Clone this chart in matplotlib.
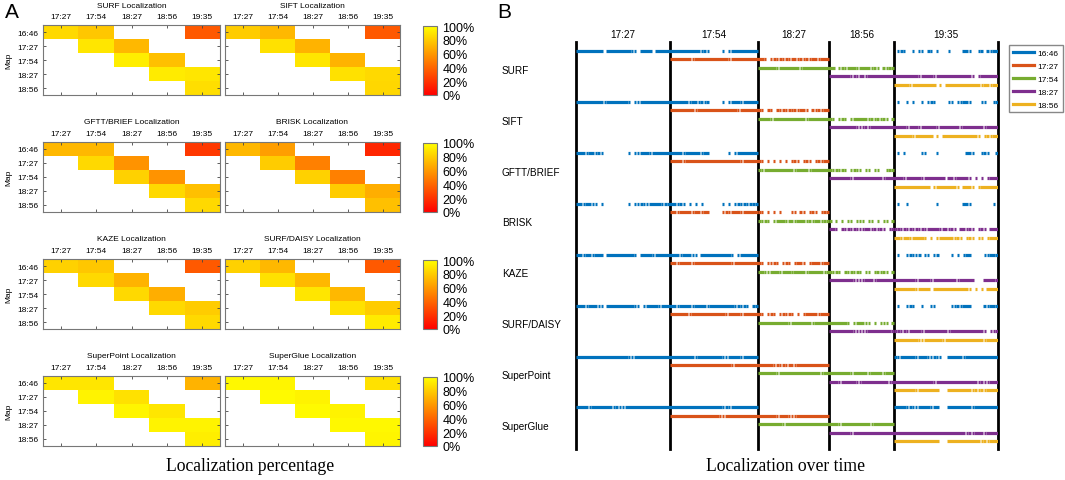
import numpy as np
import matplotlib
matplotlib.use('Agg')
import matplotlib.pyplot as plt
from matplotlib.lines import Line2D
from matplotlib.transforms import blended_transform_factory

plt.rcParams['font.family'] = ['Liberation Sans', 'DejaVu Sans']

# Traversals (query runs) and the maps they are localized against
TRAVERSALS = ['17:27', '17:54', '18:27', '18:56', '19:35']
MAPS = ['16:46', '17:27', '17:54', '18:27', '18:56']
DURATIONS = [94, 88, 71, 65, 104]
METHODS = ['SURF', 'SIFT', 'GFTT/BRIEF', 'BRISK', 'KAZE', 'SURF/DAISY', 'SuperPoint', 'SuperGlue']
MAP_COLORS = ['#0072BD', '#D95319', '#77AC30', '#7E2F8E', '#EDB120']

N = None
# Localization percentage, rows = map, columns = traversal
SURF_PCT = [[85, 78, N, N, 35], [N, 90, 72, N, N], [N, N, 93, 75, N], [N, N, N, 92, 90], [N, N, N, N, 87]]
SIFT_PCT = [[80, 72, N, N, 35], [N, 88, 70, N, N], [N, N, 90, 70, N], [N, N, N, 88, 85], [N, N, N, N, 84]]
GFTT_PCT = [[72, 72, N, N, 22], [N, 85, 58, N, N], [N, N, 82, 58, N], [N, N, N, 85, 75], [N, N, N, N, 85]]
BRISK_PCT = [[72, 62, N, N, 15], [N, 80, 50, N, N], [N, N, 82, 50, N], [N, N, N, 80, 68], [N, N, N, N, 75]]
KAZE_PCT = [[82, 78, N, N, 35], [N, 85, 70, N, N], [N, N, 85, 68, N], [N, N, N, 85, 80], [N, N, N, N, 85]]
DAISY_PCT = [[82, 72, N, N, 35], [N, 88, 72, N, N], [N, N, 90, 72, N], [N, N, N, 88, 80], [N, N, N, N, 92]]
SUPERPOINT_PCT = [[90, 90, N, N, 70], [N, 95, 88, N, N], [N, N, 96, 90, N], [N, N, N, 95, 95], [N, N, N, N, 93]]
SUPERGLUE_PCT = [[97, 96, N, N, 88], [N, 98, 95, N, N], [N, N, 98, 95, N], [N, N, N, 97, 97], [N, N, N, N, 96]]

# Localization over time: one string per (map, traversal) cell that is not empty above.
# '1' = localized, 'i' = short burst of localizations, '0' = lost
SURF_LOC = {
    '16:46': ['111111111011111111ii01111011111', '1111111111i1i0000i0i111111111', '0i1i00i0ii01i0i000i000011i00i101i11'],
    '17:27': ['1111111i11111111111i111111111', '11i0i1i1i1i11i1i1i11i111'],
    '17:54': ['111111i1111111i111111111', '110i1i111i1111i1i01i1i'],
    '18:27': ['1111111i1i11i111111111', '11111111i1111i111111111111i0i111111'],
    '18:56': ['11111i111111110i0111111111111i11i11'],
}
SIFT_LOC = {
    '16:46': ['111111111i1111111i0ii1111111111', '111111i11i1i10000i0i111i11111', '0i00i0i00i0i1i0000ii0ii11i000ii00ii'],
    '17:27': ['11111111i1111111111111i111111', '1i01i01i1i1i1i11i01i1i11'],
    '17:54': ['1111i11111111111i1111111', '1i0i1i0i11111i1i1i1i0i'],
    '18:27': ['111111111i1i1i11111111', '1111i111i11111i1111111i1111111i1111'],
    '18:56': ['111111i1111110i0111111111111i0i1i11'],
}
GFTT_LOC = {
    '16:46': ['111i11i1i00000000i0ii111i111111', '1111i11111i11000000i0i1111111', '0i0i00000ii000i00000000011i00i1i00i'],
    '17:27': ['1111i111111111111111111i11111', '1i0i0i0i0i0i1i0i1i0i1i11'],
    '17:54': ['1i1111111111i1111i111111', '1i1i1i0i1ii0ii0ii00i1i'],
    '18:27': ['1111111i1111111111i111', '111i11111i1111111011i1111i0i0i0i111'],
    '18:56': ['1111111111110i1111111i0111i0i111111'],
}
BRISK_LOC = {
    '16:46': ['11i11ii0i00000000i0ii1ii1111ii1', '11i1i0i0i0i000000i0i0i1i1i1i1', '0i00i000000000i0000000011i0000000i0'],
    '17:27': ['11i1111i11i110000i1i111i11111', 'ii0i0i0i000ii01i0i1i0i1i'],
    '17:54': ['ii1i0i111i11i111i1i11i1i', 'i0i0i0ii0i1i0ii0i0ii0i'],
    '18:27': ['11i01i1i1i1i11i1i1i0i1', 'i1i1i1i1i1i1111i11i1i011i1i0i1i0111'],
    '18:56': ['11i11i1111i0i0i11111i1i0i1i0ii0i111'],
}
KAZE_LOC = {
    '16:46': ['11i11i1110111111111i01111i11111', '111i111ii01111111111i0i111111', '0i00i1ii10ii0i10000i0i0i110000ii11i'],
    '17:27': ['11i1111i111111111111i11111111', '1i0ii1i0i1i0i11i0i111i11'],
    '17:54': ['11ii111i111i1111i11111i1', '1i1i01i1i1i0ii0i1i1i0i'],
    '18:27': ['11111111ii1i111i111111', '1111111i1111i11111111i111110001111i'],
    '18:56': ['1111111i11110111111111111i0i0i01111'],
}
DAISY_LOC = {
    '16:46': ['111i111ii0111111111ii0i1111i111', '11i1111i1111i11111111i1i1i0i1', '0i00i1i00i00ii00000ii1i11100001i11i'],
    '17:27': ['111111i11111111111i1111i11111', '1i0i1i0i1i1i0i0i1111i111'],
    '17:54': ['1111111111i1111111i11111', '111111i0i111ii0i0iii0i'],
    '18:27': ['11111111iiiii11111111i', 'i1i1i1111i11111111i11111111111i0ii1'],
    '18:56': ['11111111ii111111i1111111111111i1111'],
}
SUPERPOINT_LOC = {
    '16:46': ['11111111111111111ii111111111111', '11111111i11111111ii1111i11111', '1i11111i111ii1ii0011111i11111111111'],
    '17:27': ['11111111111111111111i11111111', '11111i1i1i11i11111111111'],
    '17:54': ['111111i11111111111111i11', '1111111i11111i1111i111'],
    '18:27': ['111i11111ii111111111i1', '1111111111111i11111111111111i1ii111'],
    '18:56': ['1111111i111111100011111111i1i1i1111'],
}
SUPERGLUE_LOC = {
    '16:46': ['1111i1111111i1ii111111111111111', '11111111111111111i1i111111111', '1111i1ii1111i1100011111111i11111111'],
    '17:27': ['1111111111111111ii11111111111', '111111i111i1i11111111111'],
    '17:54': ['11111111i111111111111111', '111i1111111111i1111111'],
    '18:27': ['1111111i11111111111111', '111111111111111111111111i1i111i1111'],
    '18:56': ['11111111111111100011111111111i1i111'],
}

PCT = [SURF_PCT, SIFT_PCT, GFTT_PCT, BRISK_PCT, KAZE_PCT, DAISY_PCT, SUPERPOINT_PCT, SUPERGLUE_PCT]
LOC = [SURF_LOC, SIFT_LOC, GFTT_LOC, BRISK_LOC, KAZE_LOC, DAISY_LOC, SUPERPOINT_LOC, SUPERGLUE_LOC]

W, H = 1065, 481
fig = plt.figure(figsize=(W / 100, H / 100), dpi=100)


def px_axes(x0, y0, x1, y1):
    return fig.add_axes([x0 / W, 1 - y1 / H, (x1 - x0) / W, (y1 - y0) / H])


# ---------------- A: localization percentage heatmaps ----------------
cmap = plt.get_cmap('autumn').copy()
cmap.set_bad('white')
frame = '#777777'

for r in range(4):
    top = 26 + 117 * r
    bottom = top + 70
    for c in range(2):
        k = 2 * r + c
        x0, x1 = [(43, 220), (225, 400)][c]
        ax = px_axes(x0, top, x1, bottom)
        data = np.ma.masked_invalid(np.array(PCT[k], dtype=float))
        im = ax.imshow(data, cmap=cmap, vmin=0, vmax=100, aspect='auto', interpolation='nearest')
        ax.set_xticks(range(len(TRAVERSALS)))
        ax.set_xticklabels(TRAVERSALS)
        ax.set_yticks(range(len(MAPS)))
        ax.set_yticklabels(MAPS)
        ax.xaxis.tick_top()
        ax.tick_params(axis='both', direction='in', length=2.5, width=0.6, color='#444444',
                       top=True, bottom=True, left=True, right=True,
                       labeltop=True, labelbottom=False, labelsize=6, pad=3.5)
        if c == 1:
            ax.tick_params(labelleft=False)
        else:
            ax.set_ylabel('Map', fontsize=6, labelpad=3)
        for s in ax.spines.values():
            s.set_color(frame)
            s.set_linewidth(0.8)
        fig.text((x0 + x1) / 2 / W, 1 - (top - 20) / H, METHODS[k] + ' Localization',
                 fontsize=6, ha='center', va='center')

    cax = px_axes(423, top + 1, 437, bottom)
    cb = fig.colorbar(im, cax=cax, ticks=[0, 20, 40, 60, 80, 100])
    cb.ax.set_yticklabels(['0%', '20%', '40%', '60%', '80%', '100%'])
    cb.ax.tick_params(length=0, labelsize=9, pad=4)
    cb.outline.set_edgecolor(frame)
    cb.outline.set_linewidth(0.8)

fig.text(5 / W, 1 - 13 / H, 'A', fontsize=15, va='center', ha='left')
fig.text(250 / W, 1 - 467 / H, 'Localization percentage', family='Liberation Serif',
         fontsize=12.7, ha='center', va='center')

# ---------------- B: localization over time ----------------
ax = px_axes(576, 43, 998, 450)
edges = np.concatenate([[0], np.cumsum(DURATIONS)])
ax.set_xlim(edges[0], edges[-1])
ax.set_ylim(46.9, -1.06)
ax.axis('off')

for e in edges:
    ax.axvline(e, color='black', lw=2.0, clip_on=False)

for t, name in enumerate(TRAVERSALS):
    ax.text((edges[t] + edges[t + 1]) / 2, -2.0, name, fontsize=7.2, ha='center', va='center')

label_tf = blended_transform_factory(fig.transFigure, ax.transData)

for m, method in enumerate(METHODS):
    ax.text(502 / W, 6 * m + 2.2, method, fontsize=7.2, ha='left', va='center', transform=label_tf)
    for j, map_name in enumerate(MAPS):
        cols = [t for t in range(len(TRAVERSALS)) if PCT[m][j][t] is not None]
        starts, ends = [], []
        for t, s in zip(cols, LOC[m][map_name]):
            w = DURATIONS[t] / len(s)
            for b, ch in enumerate(s):
                if ch == '1':
                    a, z = edges[t] + b * w, edges[t] + (b + 1) * w
                elif ch == 'i':
                    a, z = edges[t] + (b + 0.15) * w, edges[t] + (b + 0.85) * w
                else:
                    continue
                if ends and abs(ends[-1] - a) < 1e-9:
                    ends[-1] = z
                else:
                    starts.append(a)
                    ends.append(z)
        ax.hlines([6 * m + j] * len(starts), starts, ends, colors=MAP_COLORS[j], lw=2.3, capstyle='butt')

handles = [Line2D([0], [0], color=col, lw=2.3) for col in MAP_COLORS]
fig.legend(handles, MAPS, loc='upper left', bbox_to_anchor=(1009 / W, 1 - 46 / H),
           fontsize=6, fancybox=False, edgecolor='#888888', framealpha=1,
           handlelength=2.6, handletextpad=0.4, borderpad=0.45, labelspacing=0.62, borderaxespad=0)

fig.text(497 / W, 1 - 13 / H, 'B', fontsize=15, va='center', ha='left')
fig.text(785 / W, 1 - 467 / H, 'Localization over time', family='Liberation Serif',
         fontsize=12.7, ha='center', va='center')

fig.savefig('out.png', dpi=100)
